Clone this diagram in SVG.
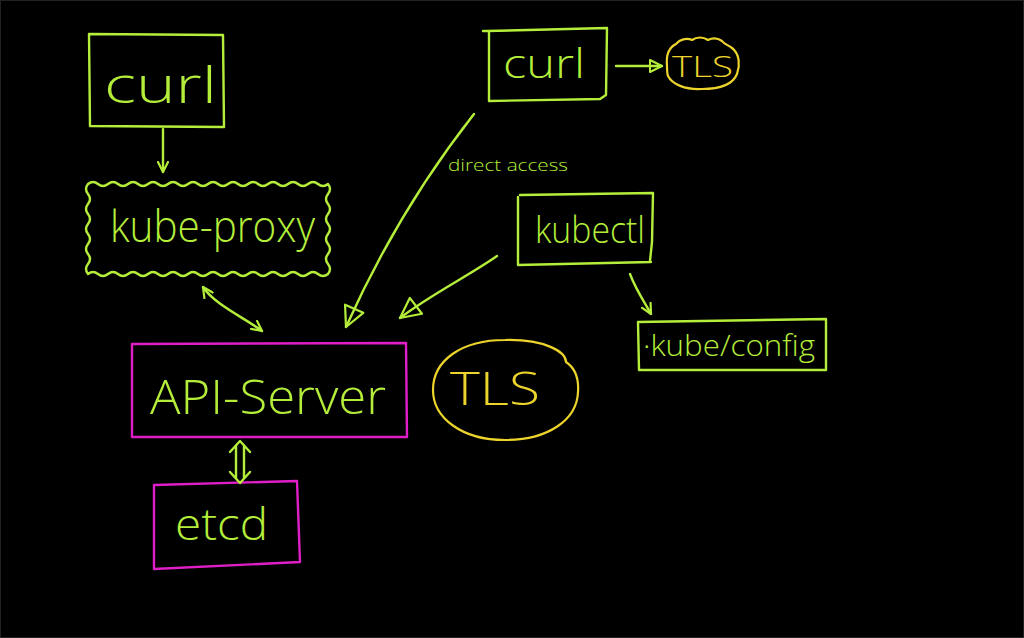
<svg xmlns="http://www.w3.org/2000/svg" width="1024" height="638" viewBox="0 0 1024 638">
<defs>
<style>
.g{fill:none;stroke:#b4ee3a;stroke-width:2.4;stroke-linecap:round;stroke-linejoin:round}
.m{fill:none;stroke:#e01ec8;stroke-width:2.4;stroke-linejoin:round}
.y{fill:none;stroke:#ecd42c;stroke-width:2.2;stroke-linejoin:round}
.t{font-family:"Open Sans","DejaVu Sans",sans-serif;font-weight:300;fill:#b4ee3a}
.ty{font-family:"Open Sans","DejaVu Sans",sans-serif;font-weight:300;fill:#ecd42c}
</style>
<marker id="v" viewBox="0 0 12 12" refX="11" refY="6" markerWidth="12" markerHeight="12" markerUnits="userSpaceOnUse" orient="auto-start-reverse">
<path d="M1,1 L11,6 L1,11" fill="none" stroke="#b4ee3a" stroke-width="2.2" stroke-linecap="round" stroke-linejoin="round"/>
</marker>
<marker id="tri" viewBox="0 0 24 24" refX="22" refY="12" markerWidth="24" markerHeight="24" markerUnits="userSpaceOnUse" orient="auto">
<path d="M2,2 L22,12 L2,22 Z" fill="none" stroke="#b4ee3a" stroke-width="2.2" stroke-linejoin="round"/>
</marker>
<marker id="trs" viewBox="0 0 16 16" refX="14" refY="8" markerWidth="16" markerHeight="16" markerUnits="userSpaceOnUse" orient="auto">
<path d="M2,2 L14,8 L2,14 Z" fill="none" stroke="#b4ee3a" stroke-width="2" stroke-linejoin="round"/>
</marker>
</defs>
<rect x="0" y="0" width="1024" height="638" fill="#000"/>
<rect x="0.5" y="0.5" width="1023" height="637" fill="none" stroke="#222" stroke-width="1"/>

<g id="curl1">
<path class="g" d="M89,34 L223,35 L224,127 L90,126 Z"/>
<text class="t" x="104" y="103" font-size="50" textLength="113" lengthAdjust="spacingAndGlyphs">curl</text>
</g>

<g id="kube-proxy">
<path class="g" d="M88,184 q5,-4 10,0 t10,0 t10,0 t10,0 t10,0 t10,0 t10,0 t10,0 t10,0 t10,0 t10,0 t10,0 t10,0 t10,0 t10,0 t10,0 t10,0 t10,0 t10,0 t10,0 t10,0 t10,0 t10,0 t10,0 q4,5 0,10 t0,10 t0,10 t0,10 t0,10 t0,10 t0,10 t0,10 t0,10 q-5,4 -10,0 t-10,0 t-10,0 t-10,0 t-10,0 t-10,0 t-10,0 t-10,0 t-10,0 t-10,0 t-10,0 t-10,0 t-10,0 t-10,0 t-10,0 t-10,0 t-10,0 t-10,0 t-10,0 t-10,0 t-10,0 t-10,0 t-10,0 t-10,0 q-4,-5 0,-10 t0,-10 t0,-10 t0,-10 t0,-10 t0,-10 t0,-10 t0,-10 t0,-10 Z"/>
<text class="t" x="110" y="242" font-size="44" textLength="205" lengthAdjust="spacingAndGlyphs">kube-proxy</text>
</g>

<g id="api-server">
<path class="m" d="M132,344 L406,343 L407,437 L132,437 Z"/>
<text class="t" x="150" y="414" font-size="48" textLength="236" lengthAdjust="spacingAndGlyphs">API-Server</text>
</g>

<g id="tls-big">
<path class="y" d="M505,340 C545,339 566,352 566,362 C575,368 579,378 578,392 C577,420 548,440 505,440 C462,440 433,418 433,390 C433,360 462,340 505,340 Z"/>
<text class="ty" x="450" y="405" font-size="46" textLength="90" lengthAdjust="spacingAndGlyphs">TLS</text>
</g>

<g id="etcd">
<path class="m" d="M154,485 L297,481 L300,562 L154,569 Z"/>
<text class="t" x="175" y="540" font-size="44" textLength="93" lengthAdjust="spacingAndGlyphs">etcd</text>
</g>

<g id="curl2">
<path class="g" d="M487,31 L607,28 L606,95 L600,99 L489,101 M483,31 L489,31 L489,101"/>
<text class="t" x="503" y="78" font-size="40" textLength="82" lengthAdjust="spacingAndGlyphs">curl</text>
</g>

<g id="tls-small">
<path class="y" d="M667,66 C666,56 668,48 676,44 A14,14 0 0 1 692,40 A14,14 0 0 1 708,40 A14,14 0 0 1 722,41 C724,44 728,45 732,48 C740,54 740,66 737,74 C733,84 720,89 702,89 C685,90 672,84 668,76 C667,73 667,70 667,66 Z"/>
<text class="ty" x="672" y="77" font-size="30" textLength="61" lengthAdjust="spacingAndGlyphs">TLS</text>
</g>

<g id="kubectl">
<path class="g" d="M520,195 L653,193 L652,242 L650,261 M518,197 L518,265 L651,262"/>
<text class="t" x="535" y="243" font-size="36" textLength="110" lengthAdjust="spacingAndGlyphs">kubectl</text>
</g>

<g id="kube-config">
<path class="g" d="M638,322 L826,319 L826,370 L639,370 Z"/>
<text class="t" x="643" y="356" font-size="30" textLength="172" lengthAdjust="spacingAndGlyphs">·kube/config</text>
</g>

<g id="connectors">
<path class="g" d="M163,129 L163,172" marker-end="url(#v)"/>
<path class="g" d="M203,287 C215,305 245,318 262,331" marker-start="url(#v)" marker-end="url(#v)"/>
<path class="g" d="M236,446 L236,478 M244,446 L244,478"/>
<path class="g" d="M230,452 L240,441 L250,452 M230,472 L240,483 L250,472"/>
<path class="g" d="M616,66 L662,66" marker-end="url(#trs)"/>
<path class="g" d="M474,114 C430,170 385,240 346,327" marker-end="url(#tri)"/>
<path class="g" d="M497,256 C470,275 430,295 400,318" marker-end="url(#tri)"/>
<path class="g" d="M630,274 C636,290 645,303 651,314" marker-end="url(#v)"/>
<text class="t" x="448" y="171" font-size="17" textLength="120" lengthAdjust="spacingAndGlyphs">direct access</text>
</g>
</svg>
